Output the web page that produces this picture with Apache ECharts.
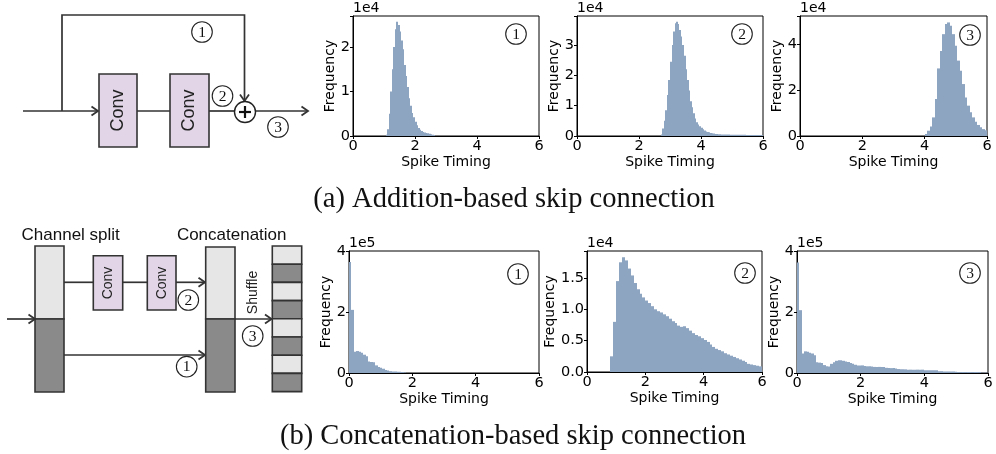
<!DOCTYPE html>
<html>
<head>
<meta charset="utf-8">
<script src="https://cdn.jsdelivr.net/npm/echarts@6/dist/echarts.min.js"></script>
<style>
html, body { margin: 0; padding: 0; background: #fff; }
#main { width: 996px; height: 454px; }
</style>
</head>
<body>
<div id="main"></div>
<script>
// spike timing histograms, counts (units of the axis multiplier)
var timingTicks = [0, 2, 4, 6];

// (a) addition-based, counts x1e4
var a1Start = 1.05, a1Bin = 0.05;
var a1Counts = [0.03, 0.15, 0.5, 1.0, 1.5, 2.0, 2.4, 2.57, 2.5, 2.35, 2.15, 1.95, 1.6, 1.35, 1.1, 0.85,
    0.68, 0.52, 0.42, 0.32, 0.24, 0.18, 0.14, 0.11, 0.09, 0.08, 0.07, 0.06, 0.05, 0.04, 0.03, 0.02];

var a2Start = 2.70, a2Bin = 0.05;
var a2Counts = [0.05, 0.25, 0.5, 0.85, 1.35, 1.85, 2.45, 3.0, 3.45, 3.72, 3.77, 3.7, 3.5, 3.28, 3.0, 2.65,
    2.2, 1.85, 1.5, 1.15, 0.95, 0.75, 0.58, 0.45, 0.38, 0.32, 0.27, 0.22, 0.18, 0.15, 0.13, 0.12,
    0.1, 0.09, 0.08, 0.07, 0.07, 0.06, 0.06, 0.05, 0.05, 0.05, 0.05, 0.05, 0.05, 0.04, 0.04, 0.04,
    0.04, 0.04, 0.04, 0.04, 0.04, 0.04, 0.04, 0.03, 0.03, 0.03, 0.03, 0.03, 0.03, 0.03, 0.03, 0.03,
    0.03, 0.03];

var a3Start = 4.0, a3Bin = 0.08;
var a3Counts = [0.09, 0.23, 0.41, 0.81, 1.61, 2.94, 3.7, 4.43, 4.87, 4.94, 4.8, 4.43, 3.93, 3.28, 2.84,
    2.26, 1.68, 1.32, 1.03, 0.81, 0.62, 0.48, 0.38, 0.3, 0.25];

// (b) concatenation-based, counts x1e5 / x1e4 / x1e5
var b1Start = 0, b1Bin = 0.075;
var b1Counts = [3.64, 2.07, 0.70, 0.72, 0.70, 0.66, 0.6, 0.55, 0.38, 0.36, 0.35, 0.25, 0.2, 0.17, 0.14,
    0.1, 0.08, 0.06, 0.05, 0.05, 0.04, 0.04, 0.03, 0.02];

var b2Start = 0.8, b2Bin = 0.1;
var b2Counts = [0.25, 0.8, 1.45, 1.75, 1.83, 1.78, 1.65, 1.54, 1.42, 1.32, 1.25, 1.19, 1.14, 1.1, 1.05,
    1.0, 0.97, 0.95, 0.92, 0.89, 0.85, 0.81, 0.78, 0.74, 0.72, 0.73, 0.7, 0.66, 0.62, 0.59, 0.57,
    0.54, 0.51, 0.48, 0.44, 0.4, 0.37, 0.35, 0.33, 0.3, 0.28, 0.26, 0.24, 0.22, 0.2, 0.18, 0.16,
    0.13, 0.12, 0.11, 0.1, 0.09];

var b3Start = 0, b3Bin = 0.075;
var b3Counts = [3.62, 2.06, 0.64, 0.71, 0.70, 0.66, 0.64, 0.58, 0.35, 0.34,
    0.33, 0.26, 0.22, 0.21, 0.30, 0.35, 0.40, 0.42, 0.42, 0.40,
    0.38, 0.36, 0.33, 0.30, 0.27, 0.25, 0.25, 0.25, 0.23, 0.22,
    0.22, 0.21, 0.20, 0.20, 0.20, 0.20, 0.20, 0.17, 0.16, 0.16,
    0.16, 0.15, 0.13, 0.12, 0.12, 0.12, 0.11, 0.11, 0.11, 0.11,
    0.11, 0.11, 0.11, 0.09, 0.09, 0.09, 0.09, 0.09, 0.09, 0.06,
    0.06, 0.05, 0.05, 0.05, 0.05, 0.05, 0.04, 0.03, 0.03, 0.03,
    0.03, 0.03, 0.03, 0.03, 0.03, 0.03, 0.03, 0.01, 0.01, 0.01];

var binStarts = [a1Start, a2Start, a3Start, b1Start, b2Start, b3Start];
var binWidths = [a1Bin, a2Bin, a3Bin, b1Bin, b2Bin, b3Bin];
var counts = [a1Counts, a2Counts, a3Counts, b1Counts, b2Counts, b3Counts];
var yMax = [2.7, 3.96, 5.22, 4, 1.93, 4];
var yStep = [1, 1, 2, 2, 0.5, 2];
var yDigits = [0, 0, 0, 0, 1, 0];
var multipliers = ['1e4', '1e4', '1e4', '1e5', '1e4', '1e5'];
var tags = ['1', '2', '3', '1', '2', '3'];

// layout (px)
var boxes = [[353, 16, 186, 120], [577, 16, 186, 120], [800, 16, 187, 120],
    [349, 251, 190, 122], [587, 251, 175, 121], [797, 251, 191, 122]];
var tagPos = [[516, 34], [742, 34], [970, 35], [518, 274], [745, 273], [970, 273]];
var nameGaps = [15, 15, 14, 15, 29, 15];

var sans = 'DejaVu Sans';
var arial = 'Liberation Sans';
var serif = 'Liberation Serif';
var barColor = '#8ea5c2';
var ink = '#333';
var convFill = '#e1d5e7';
var lightCh = '#e6e6e6';
var darkCh = '#8a8a8a';

var myChart = echarts.init(document.getElementById('main'));

var grids = [], xAxes = [], yAxes = [], series = [], graphics = [];

function circledTag(cx, cy, t) {
    return [
        { type: 'circle', shape: { cx: cx, cy: cy, r: 10.3 }, style: { fill: '#fff', stroke: '#222', lineWidth: 1.1 } },
        { type: 'text', x: cx, y: cy + 0.5, style: { text: t, fontSize: 15.5, fontFamily: serif, fill: '#111',
            align: 'center', verticalAlign: 'middle', textAlign: 'center', textVerticalAlign: 'middle' } }
    ];
}

boxes.forEach(function (b, i) {
    var step = yStep[i], dig = yDigits[i];
    grids.push({ left: b[0], top: b[1], width: b[2], height: b[3], show: true,
        borderColor: '#000', borderWidth: 1, backgroundColor: 'transparent' });
    xAxes.push({
        type: 'value', gridIndex: i, min: timingTicks[0], max: timingTicks[timingTicks.length - 1], interval: 2,
        name: 'Spike Timing', nameLocation: 'middle', nameGap: 17,
        nameTextStyle: { fontSize: 14, color: '#000', fontFamily: sans },
        axisLine: { show: true, lineStyle: { color: '#000', width: 1 } },
        axisTick: { show: true, length: 3, lineStyle: { color: '#000' } },
        axisLabel: { fontSize: 14.5, color: '#000', margin: 3, fontFamily: sans },
        splitLine: { show: false }
    });
    yAxes.push({
        type: 'value', gridIndex: i, min: 0, max: yMax[i], interval: step,
        name: 'Frequency', nameLocation: 'middle', nameGap: nameGaps[i],
        nameTextStyle: { fontSize: 14, color: '#000', fontFamily: sans },
        axisLine: { show: true, lineStyle: { color: '#000', width: 1 } },
        axisTick: { show: true, length: 3, lineStyle: { color: '#000' } },
        axisLabel: {
            fontSize: 14.5, color: '#000', margin: 3, fontFamily: sans,
            formatter: function (v) {
                var k = v / step;
                return Math.abs(k - Math.round(k)) < 1e-6 ? v.toFixed(dig) : '';
            }
        },
        splitLine: { show: false }
    });
    var start = binStarts[i], w = binWidths[i];
    series.push({
        type: 'custom', xAxisIndex: i, yAxisIndex: i, clip: true,
        data: counts[i].map(function (c, j) {
            return [start + j * w, start + (j + 1) * w, c];
        }),
        encode: { x: [0, 1], y: 2 },
        renderItem: function (params, api) {
            var p0 = api.coord([api.value(0), api.value(2)]);
            var p1 = api.coord([api.value(1), 0]);
            // snap bin edges to whole pixels so neighbours leave no seam
            var x0 = Math.round(p0[0]), x1 = Math.round(p1[0]);
            return {
                type: 'rect',
                shape: { x: x0, y: p0[1], width: Math.max(x1 - x0, 1), height: p1[1] - p0[1] },
                style: { fill: barColor, stroke: null, lineWidth: 0 }
            };
        }
    });
    graphics.push({ type: 'text', x: b[0], y: b[1] - 1,
        style: { text: multipliers[i], fontSize: 14, fontFamily: sans, fill: '#000',
            align: 'left', verticalAlign: 'bottom', textAlign: 'left', textVerticalAlign: 'bottom' } });
    graphics = graphics.concat(circledTag(tagPos[i][0], tagPos[i][1], tags[i]));
});

// block diagrams
function seg(x1, y1, x2, y2) {
    return { type: 'line', shape: { x1: x1, y1: y1, x2: x2, y2: y2 }, style: { stroke: ink, lineWidth: 1.7 } };
}
function headR(x, y) {
    return { type: 'polyline', shape: { points: [[x - 6.5, y - 4.5], [x, y], [x - 6.5, y + 4.5]] },
        style: { stroke: ink, lineWidth: 1.8, fill: null } };
}
function headD(x, y) {
    return { type: 'polyline', shape: { points: [[x - 4.5, y - 6.5], [x, y], [x + 4.5, y - 6.5]] },
        style: { stroke: ink, lineWidth: 1.8, fill: null } };
}
function box(x, y, w, h, fill) {
    return { type: 'rect', shape: { x: x, y: y, width: w, height: h }, style: { fill: fill, stroke: ink, lineWidth: 1.6 } };
}
function vtext(x, y, t, size) {
    return { type: 'text', x: x, y: y, rotation: Math.PI / 2,
        style: { text: t, fontSize: size, fontFamily: arial, fill: '#222',
            align: 'center', verticalAlign: 'middle', textAlign: 'center', textVerticalAlign: 'middle' } };
}
function htext(x, y, t, size, family) {
    return { type: 'text', x: x, y: y,
        style: { text: t, fontSize: size, fontFamily: family, fill: '#111',
            align: 'center', verticalAlign: 'middle', textAlign: 'center', textVerticalAlign: 'middle' } };
}

// (a)
graphics.push(
    seg(23, 111, 98, 111), headR(98, 111),
    { type: 'polyline', shape: { points: [[62, 111], [62, 15], [244.5, 15], [244.5, 101]] },
        style: { stroke: ink, lineWidth: 1.7, fill: null } },
    headD(244.5, 101),
    box(99, 74, 38, 73, convFill), box(170, 74, 39, 73, convFill),
    vtext(118, 110.5, 'Conv', 18), vtext(189.5, 110.5, 'Conv', 18),
    seg(137, 111, 170, 111), seg(209, 111, 234.5, 111),
    seg(255.5, 111, 308, 111), headR(308, 111),
    { type: 'circle', shape: { cx: 245, cy: 112, r: 10.5 }, style: { fill: '#fff', stroke: '#222', lineWidth: 1.4 } },
    { type: 'line', shape: { x1: 239, y1: 112, x2: 251, y2: 112 }, style: { stroke: '#111', lineWidth: 2.2 } },
    { type: 'line', shape: { x1: 245, y1: 106, x2: 245, y2: 118 }, style: { stroke: '#111', lineWidth: 2.2 } }
);
graphics = graphics.concat(circledTag(202, 32, '1'), circledTag(222.5, 96, '2'), circledTag(278, 127, '3'));

// (b)
graphics.push(
    htext(70.7, 235, 'Channel split', 17, arial), htext(231.7, 235, 'Concatenation', 17, arial),
    box(35, 246, 29, 73, lightCh), box(35, 319, 29, 73, darkCh),
    seg(7, 319, 35, 319), headR(35, 319),
    seg(64, 282.3, 93.3, 282.3),
    box(93.3, 255.7, 29.4, 54.3, convFill), box(147.3, 255.7, 28.7, 54.3, convFill),
    vtext(108, 283, 'Conv', 14), vtext(161.7, 283, 'Conv', 14),
    seg(122.7, 282.3, 147.3, 282.3), seg(176, 282.3, 205, 282.3), headR(205, 282.3),
    seg(64, 355, 205, 355), headR(205, 355),
    box(205.7, 247, 29.3, 72, lightCh), box(205.7, 319, 29.3, 73, darkCh),
    seg(235, 319, 271.5, 319), headR(271.5, 319),
    vtext(253.3, 292.5, 'Shuffle', 14)
);
for (var s = 0; s < 8; s++) {
    graphics.push(box(272.3, 246 + s * 18.2, 29.4, 18.2, s % 2 === 0 ? lightCh : darkCh));
}
graphics = graphics.concat(circledTag(188.3, 300, '2'), circledTag(186.7, 366.7, '1'), circledTag(252.7, 336, '3'));

// captions
graphics.push(
    htext(514, 200, '(a) Addition-based skip connection', 28.5, serif),
    htext(513, 437, '(b) Concatenation-based skip connection', 28.5, serif)
);

var option = {
    backgroundColor: '#fff',
    animation: false,
    grid: grids,
    xAxis: xAxes,
    yAxis: yAxes,
    series: series,
    graphic: { elements: graphics }
};
myChart.setOption(option);
window.addEventListener('resize', function () {
    myChart.resize();
});
</script>
</body>
</html>
